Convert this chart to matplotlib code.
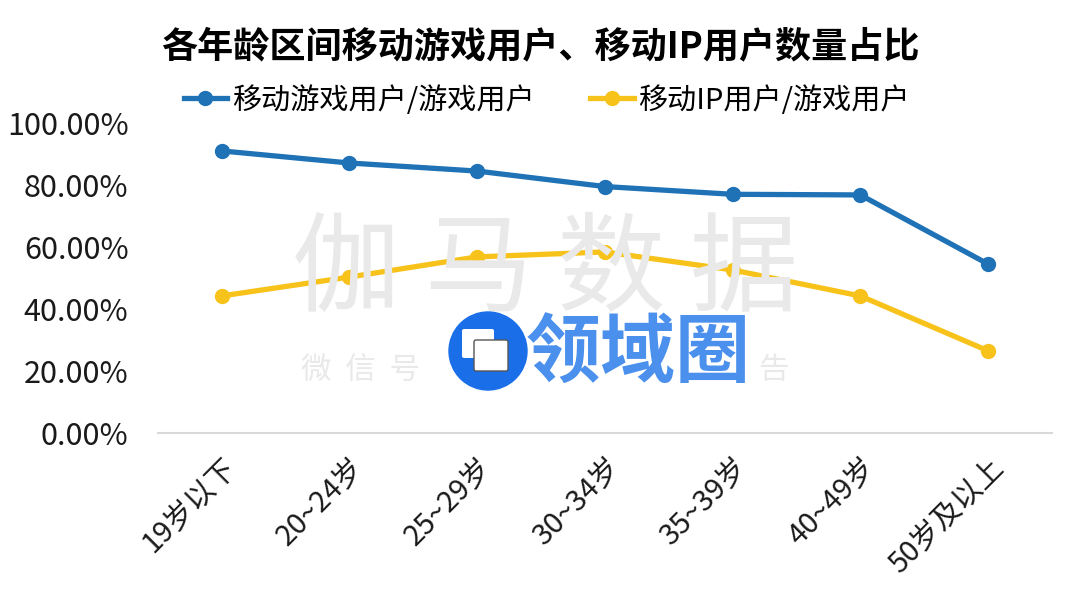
import matplotlib
matplotlib.use("Agg")
import matplotlib.pyplot as plt
from matplotlib.patches import Circle, FancyBboxPatch

plt.rcParams['font.family'] = ['Noto Sans CJK SC', 'DejaVu Sans']

# data
categories = ["19岁以下", "20~24岁", "25~29岁", "30~34岁", "35~39岁", "40~49岁", "50岁及以上"]
mobile_game = [0.910, 0.871, 0.845, 0.795, 0.770, 0.768, 0.545]
mobile_ip = [0.442, 0.503, 0.568, 0.584, 0.526, 0.442, 0.265]
series_names = ["移动游戏用户/游戏用户", "移动IP用户/游戏用户"]
yticks = [0.0, 0.2, 0.4, 0.6, 0.8, 1.0]

blue = "#1f72b6"
yellow = "#f7c21a"

fig = plt.figure(figsize=(10.8, 6.03), dpi=100)
ax = fig.add_axes([0.146, 0.282, 0.828, 0.514])

x = list(range(len(categories)))

# watermark behind the lines (part of the second line is hidden by the logo)
fig.text(0.505, 0.548, "伽 马 数 据", fontsize=78, color="#e9e9e9",
         ha="center", va="center", zorder=0)
fig.text(0.334, 0.385, "微  信  号", fontsize=22,
         color="#e9e9e9", ha="center", va="center", zorder=0)
fig.text(0.716, 0.385, "告", fontsize=22,
         color="#e9e9e9", ha="center", va="center", zorder=0)

ax.plot(x, mobile_game, color=blue, lw=3.8, marker="o", ms=10,
        label=series_names[0], zorder=3)
ax.plot(x, mobile_ip, color=yellow, lw=3.8, marker="o", ms=10,
        label=series_names[1], zorder=3)

ax.set_xlim(-0.5, len(categories) - 0.5)
ax.set_ylim(0, 1.0)
ax.set_yticks(yticks)
ax.set_yticklabels([f"{v * 100:.2f}%" for v in yticks], fontsize=22, color="#1a1a1a")
ax.set_xticks(x)
ax.set_xticklabels(categories, fontsize=21, rotation=45, ha="right",
                   rotation_mode="anchor", color="#1a1a1a")
ax.tick_params(axis="both", length=0)
ax.tick_params(axis="y", pad=21)
ax.tick_params(axis="x", pad=14)
for s in ["top", "right", "left"]:
    ax.spines[s].set_visible(False)
ax.spines["bottom"].set_color("#d9d9d9")
ax.spines["bottom"].set_linewidth(1.5)
ax.patch.set_alpha(0)

fig.text(0.50, 0.922, "各年龄区间移动游戏用户、移动IP用户数量占比", fontsize=26,
         fontweight="bold", ha="center", va="center")

fig.legend(loc="center", bbox_to_anchor=(0.506, 0.833), ncol=2, frameon=False,
           fontsize=21, handlelength=1.5, handletextpad=0.15, columnspacing=1.9)

# overlay logo
logo_ax = fig.add_axes([0, 0, 1, 1], zorder=5)
logo_ax.set_xlim(0, 1080)
logo_ax.set_ylim(603, 0)
logo_ax.axis("off")
logo_ax.add_patch(Circle((488, 351), 39, color="#1a6fe8"))
logo_ax.add_patch(FancyBboxPatch((464, 331), 28, 25, boxstyle="round,pad=2",
                                 fc="white", ec="none"))
logo_ax.add_patch(FancyBboxPatch((476, 342), 30, 27, boxstyle="round,pad=2",
                                 fc="white", ec="#555555", lw=1))
logo_ax.text(638, 355, "领域圈", fontsize=54, fontweight="heavy",
             color="#4b90ec", ha="center", va="center")

fig.savefig("out.png", dpi=100)
